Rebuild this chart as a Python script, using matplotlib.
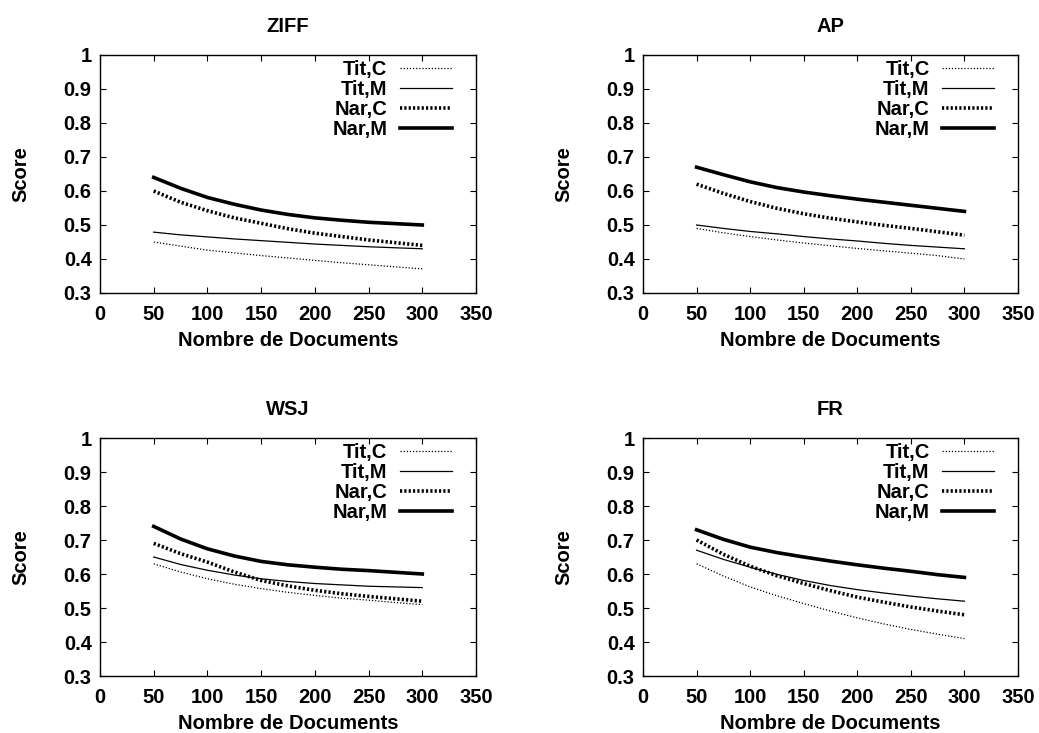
import matplotlib
matplotlib.use("Agg")
import matplotlib.pyplot as plt
from matplotlib.ticker import FuncFormatter

plt.rcParams["font.family"] = ["Liberation Sans", "DejaVu Sans"]
plt.rcParams["font.weight"] = "bold"

# documents retrieved
n_docs = [50, 75, 100, 125, 150, 175, 200, 225, 250, 275, 300]

titles = ["ZIFF", "AP", "WSJ", "FR"]
labels = ["Tit,C", "Tit,M", "Nar,C", "Nar,M"]

# scores per collection
ziff_tit_c = [0.450, 0.438, 0.426, 0.418, 0.410, 0.403, 0.396, 0.389, 0.383, 0.377, 0.371]
ziff_tit_m = [0.479, 0.471, 0.465, 0.459, 0.454, 0.449, 0.444, 0.440, 0.436, 0.433, 0.430]
ziff_nar_c = [0.600, 0.567, 0.542, 0.521, 0.505, 0.489, 0.476, 0.466, 0.456, 0.448, 0.440]
ziff_nar_m = [0.640, 0.608, 0.581, 0.561, 0.544, 0.531, 0.521, 0.514, 0.508, 0.504, 0.500]

ap_tit_c = [0.490, 0.477, 0.466, 0.456, 0.447, 0.439, 0.431, 0.424, 0.417, 0.410, 0.400]
ap_tit_m = [0.500, 0.490, 0.481, 0.474, 0.466, 0.459, 0.453, 0.446, 0.440, 0.435, 0.430]
ap_nar_c = [0.620, 0.593, 0.569, 0.549, 0.533, 0.520, 0.509, 0.499, 0.490, 0.480, 0.470]
ap_nar_m = [0.670, 0.648, 0.627, 0.610, 0.597, 0.586, 0.576, 0.567, 0.558, 0.549, 0.540]

wsj_tit_c = [0.630, 0.606, 0.586, 0.570, 0.557, 0.546, 0.537, 0.529, 0.523, 0.516, 0.510]
wsj_tit_m = [0.650, 0.628, 0.611, 0.597, 0.586, 0.578, 0.572, 0.568, 0.564, 0.562, 0.560]
wsj_nar_c = [0.690, 0.660, 0.635, 0.606, 0.581, 0.565, 0.552, 0.542, 0.534, 0.527, 0.520]
wsj_nar_m = [0.740, 0.703, 0.674, 0.653, 0.637, 0.627, 0.620, 0.614, 0.610, 0.605, 0.600]

fr_tit_c = [0.630, 0.594, 0.562, 0.536, 0.513, 0.491, 0.471, 0.453, 0.437, 0.423, 0.410]
fr_tit_m = [0.670, 0.643, 0.620, 0.599, 0.581, 0.566, 0.554, 0.544, 0.535, 0.527, 0.520]
fr_nar_c = [0.700, 0.658, 0.623, 0.595, 0.572, 0.551, 0.532, 0.517, 0.503, 0.491, 0.480]
fr_nar_m = [0.730, 0.702, 0.679, 0.663, 0.650, 0.638, 0.627, 0.617, 0.608, 0.598, 0.590]

series = [
    [ziff_tit_c, ziff_tit_m, ziff_nar_c, ziff_nar_m],
    [ap_tit_c, ap_tit_m, ap_nar_c, ap_nar_m],
    [wsj_tit_c, wsj_tit_m, wsj_nar_c, wsj_nar_m],
    [fr_tit_c, fr_tit_m, fr_nar_c, fr_nar_m],
]

styles = [
    dict(lw=0.9, ls=(0, (1, 1.5))),
    dict(lw=0.9, ls="-"),
    dict(lw=2.6, ls=(0, (0.6, 0.6))),
    dict(lw=2.6, ls="-"),
]

FS = 14.5
W, H = 1039, 733
fig = plt.figure(figsize=(W / 100, H / 100), dpi=100)

# axes boxes in pixels: left, top, right, bottom
boxes = [(100, 55, 476, 293), (643, 55, 1018, 293),
         (100, 438, 476, 676), (643, 438, 1018, 676)]

for (l, t, r, b), title, ys in zip(boxes, titles, series):
    ax = fig.add_axes([l / W, 1 - b / H, (r - l) / W, (b - t) / H])
    for y, lab, st in zip(ys, labels, styles):
        ax.plot(n_docs, y, color="black", label=lab, solid_joinstyle="round", **st)
    ax.set_xlim(0, 350)
    ax.set_ylim(0.3, 1.0)
    ax.set_xticks(range(0, 351, 50))
    ax.set_yticks([0.3, 0.4, 0.5, 0.6, 0.7, 0.8, 0.9, 1.0])
    ax.yaxis.set_major_formatter(FuncFormatter(lambda v, p: f"{v:g}"))
    ax.tick_params(direction="in", length=4, width=0.8, top=True, right=True,
                   labelsize=FS)
    ax.tick_params(axis="x", pad=8.5)
    ax.tick_params(axis="y", pad=6)
    for lbl in ax.get_xticklabels() + ax.get_yticklabels():
        lbl.set_fontweight("bold")
    for sp in ax.spines.values():
        sp.set_linewidth(1.0)
    ax.set_title(title, fontsize=FS, fontweight="bold", pad=16.5)
    ax.set_xlabel("Nombre de Documents", fontsize=FS, fontweight="bold", labelpad=5.5)
    ax.set_ylabel("Score", fontsize=FS, fontweight="bold", labelpad=24)
    leg = ax.legend(loc="upper right", bbox_to_anchor=(0.936, 0.977),
                    frameon=False, markerfirst=False, borderpad=0, borderaxespad=0,
                    handlelength=2.6, handletextpad=0.6, labelspacing=0.05,
                    prop=dict(size=FS, weight="bold"))
    for txt in leg.get_texts():
        txt.set_ha("right")

fig.savefig("out.png", dpi=100)
